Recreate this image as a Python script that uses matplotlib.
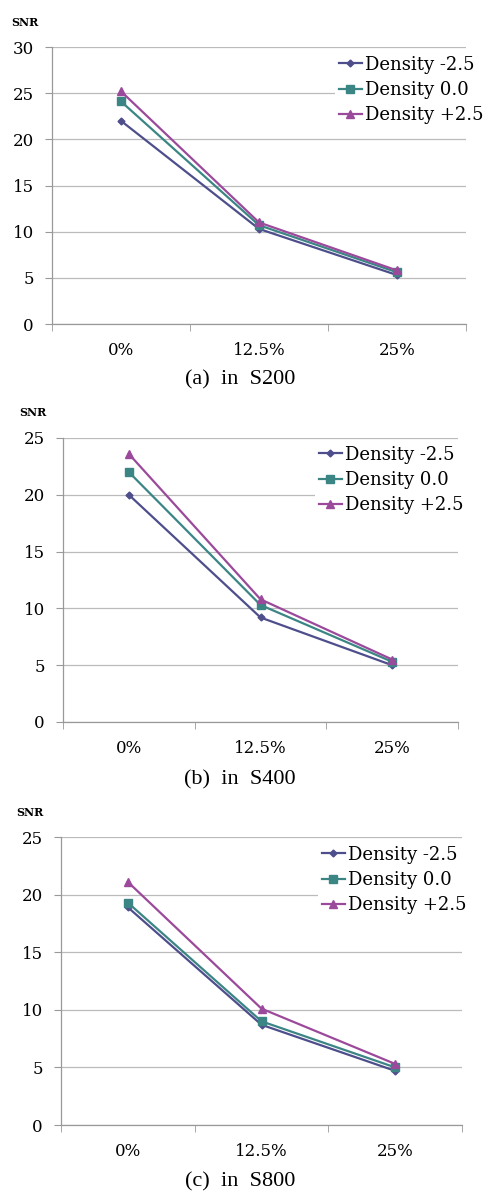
import matplotlib
matplotlib.use("Agg")
import matplotlib.pyplot as plt

categories = ["0%", "12.5%", "25%"]
series_labels = ["Density -2.5", "Density 0.0", "Density +2.5"]

s200_minus = [22.0, 10.3, 5.3]
s200_zero = [24.1, 10.7, 5.6]
s200_plus = [25.2, 11.0, 5.8]

s400_minus = [20.0, 9.2, 5.0]
s400_zero = [22.0, 10.3, 5.3]
s400_plus = [23.6, 10.8, 5.5]

s800_minus = [18.9, 8.7, 4.7]
s800_zero = [19.3, 9.0, 5.0]
s800_plus = [21.1, 10.1, 5.3]

captions = ["(a)  in  S200", "(b)  in  S400", "(c)  in  S800"]
y_max = [30, 25, 25]

COLORS = ["#4E4E8C", "#3B8685", "#9B4A9B"]
MARKERS = [("D", 3.5), ("s", 5.5), ("^", 6.0)]
W, H = 488, 1194

# pixel boxes: left, right, top, bottom of each plot area
boxes = [(52, 466, 47, 324), (63, 458, 438, 722), (61, 462, 837, 1125)]
legend_anchor = [(335, 52), (315, 442), (318, 842)]
snr_pos = [(25, 22), (33, 413), (30, 812)]
caption_y = [380, 780, 1182]

fig = plt.figure(figsize=(W / 100, H / 100), dpi=100)
panels = [
    (s200_minus, s200_zero, s200_plus),
    (s400_minus, s400_zero, s400_plus),
    (s800_minus, s800_zero, s800_plus),
]

for i, data in enumerate(panels):
    left, right, top, bottom = boxes[i]
    ax = fig.add_axes([left / W, 1 - bottom / H, (right - left) / W, (bottom - top) / H])
    x = list(range(len(categories)))
    for values, label, color, (marker, ms) in zip(data, series_labels, COLORS, MARKERS):
        ax.plot(x, values, color=color, lw=1.6, marker=marker, ms=ms,
                label=label, zorder=3, clip_on=False)
    ax.set_xlim(-0.5, len(categories) - 0.5)
    ax.set_ylim(0, y_max[i])
    ax.set_yticks(range(0, y_max[i] + 1, 5))
    ax.set_xticks(x)
    ax.set_xticklabels(categories, fontfamily="DejaVu Serif", fontsize=12)
    ax.set_xticks([-0.5, 0.5, 1.5, 2.5], minor=True)
    ax.tick_params(axis="x", which="major", length=0, pad=13)
    ax.tick_params(axis="x", which="minor", length=5, color="#999999")
    ax.tick_params(axis="y", length=5, color="#999999", pad=8)
    for lab in ax.get_yticklabels():
        lab.set_fontfamily("DejaVu Serif")
        lab.set_fontsize(12)
    ax.grid(axis="y", color="#BBBBBB", lw=0.9)
    ax.set_axisbelow(True)
    for side in ("top", "right"):
        ax.spines[side].set_visible(False)
    for side in ("left", "bottom"):
        ax.spines[side].set_color("#999999")
        ax.spines[side].set_linewidth(0.9)

    lx, ly = legend_anchor[i]
    leg = ax.legend(loc="upper left", bbox_to_anchor=(lx / W, 1 - ly / H),
                    bbox_transform=fig.transFigure, frameon=True, fancybox=False,
                    edgecolor="none", facecolor="white", framealpha=1,
                    borderaxespad=0, borderpad=0.2, handlelength=1.3,
                    handletextpad=0.15, labelspacing=0.4,
                    prop={"family": "DejaVu Serif", "size": 13})
    leg.set_zorder(5)

    sx, sy = snr_pos[i]
    fig.text(sx / W, 1 - sy / H, "SNR", fontfamily="DejaVu Serif", fontsize=8,
             fontweight="bold", ha="center", va="center")
    fig.text(240 / W, 1 - caption_y[i] / H, captions[i], fontfamily="Liberation Serif",
             fontsize=16, ha="center", va="center")

fig.savefig("out.png", dpi=100)
